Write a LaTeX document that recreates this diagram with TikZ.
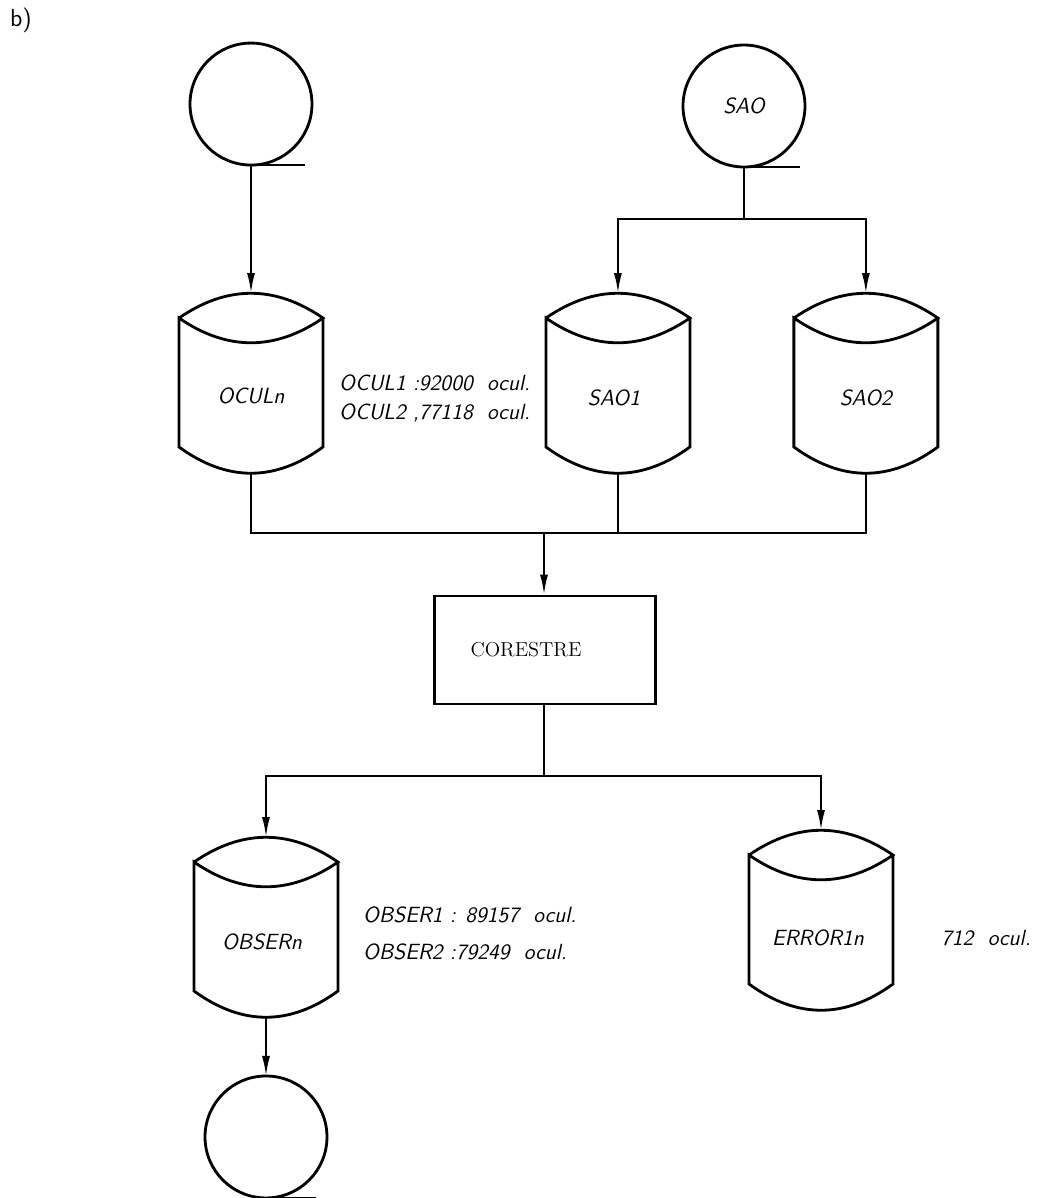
\documentclass[tikz,border=0pt]{standalone}
\usepackage{fontspec}
\usetikzlibrary{arrows.meta, positioning, calc}
\newcommand{\labelfont}{\fontsize{12.5}{14}\selectfont\sffamily\itshape}
\tikzset{
    tape/.style={circle, draw, line width=1.6pt, minimum size=2.44cm, inner sep=0pt, outer sep=0pt, font=\labelfont},
    disk/.style={rectangle, minimum width=2.88cm, minimum height=3.6cm, inner sep=0pt, outer sep=0pt},
    disktext/.style={font=\labelfont},
    process/.style={rectangle, draw, line width=1.6pt, minimum height=2.16cm, text width=2.98cm, inner xsep=0.72cm, align=left, font=\fontsize{11.5}{13}\selectfont\rmfamily},
    info/.style={anchor=west, font=\labelfont},
    arrow/.style={-{Latex[length=4mm,width=1.6mm]}, line width=1.1pt},
    link/.style={line width=1.1pt},
    outline/.style={line width=1.6pt}
}
\newcommand{\diskdraw}[1]{%
    \draw[outline] ($(#1.north west)+(0,25)$) .. controls +(48,-33) and +(-48,-33) .. ($(#1.north east)+(0,25)$)
        .. controls +(-48,33) and +(48,33) .. ($(#1.north west)+(0,25)$)
        -- ($(#1.south west)+(0,-26)$) .. controls +(48,35) and +(-48,35) .. ($(#1.south east)+(0,-26)$)
        -- ($(#1.north east)+(0,25)$);
}

\begin{document}
\begin{tikzpicture}[x=0.02cm, y=-0.02cm]
    \useasboundingbox (0,0) rectangle (1041,1198);
    \node[font=\fontsize{14}{16}\selectfont\sffamily] (tag) at (21,20) {b)};

    \node (oculn) [disk] at (251,383) {};
    \node (sao1) [disk, right=4.46cm of oculn] {};
    \node (sao2) [disk, right=2.08cm of sao1] {};
    \node (tin) [tape, above=2.56cm of oculn] {};
    \node (sao) [tape] at (744,106) {SAO};
    \diskdraw{oculn}
    \diskdraw{sao1}
    \diskdraw{sao2}
    \node (oculnlab) [disktext] at ($(oculn)+(0,13)$) {OCULn};
    \node (sao1lab) [disktext] at ($(sao1)+(-4,15)$) {SAO1};
    \node (sao2lab) [disktext] at ($(sao2)+(0,15)$) {SAO2};
    \node (ocul1) [info] at (333,383) {OCUL1 :92000~ ocul.};
    \node (ocul2) [info] at (333,413) {OCUL2 ,77118~ ocul.};

    \node (corestre) [process] at (545,650) {CORESTRE};

    \node (obsern) [disk] at (266,927) {};
    \node (errorn) [disk] at (821,920) {};
    \node (tout) [tape, below=1.18cm of obsern] {};
    \diskdraw{obsern}
    \diskdraw{errorn}
    \node (obsernlab) [disktext] at ($(obsern)+(-4,15)$) {OBSERn};
    \node (errornlab) [disktext] at ($(errorn)+(-3,18)$) {ERROR1n};
    \node (obser1) [info] at (357,915) {OBSER1 : 89157~ ocul.};
    \node (obser2) [info] at (357,952) {OBSER2 :79249~ ocul.};
    \node (errcount) [info] at (935,938) {712~ ocul.};

    \draw[outline] (tin.south) -- ++(54,0);
    \draw[outline] (sao.south) -- ++(56,0);
    \draw[outline] (tout.south) -- ++(50,0);

    \draw[arrow] (tin) -- (oculn);
    \draw[link] (sao.south) -- ++(0,52) coordinate (saofork);
    \draw[arrow] (saofork) -| (sao1.north);
    \draw[arrow] (saofork) -| (sao2.north);

    \coordinate (merge) at (544,533);
    \draw[link] (oculn.south) |- (merge);
    \draw[link] (sao2.south) |- (merge);
    \draw[link] (sao1.south) -- (sao1.south |- merge);
    \draw[arrow] (merge) -- (merge |- corestre.north);

    \draw[link] (merge |- corestre.south) -- ++(0,71) coordinate (split);
    \draw[arrow] (split) -| (obsern.north);
    \draw[arrow] (split) -| (errorn.north);
    \draw[arrow] (obsern) -- (tout);
\end{tikzpicture}
\end{document}
